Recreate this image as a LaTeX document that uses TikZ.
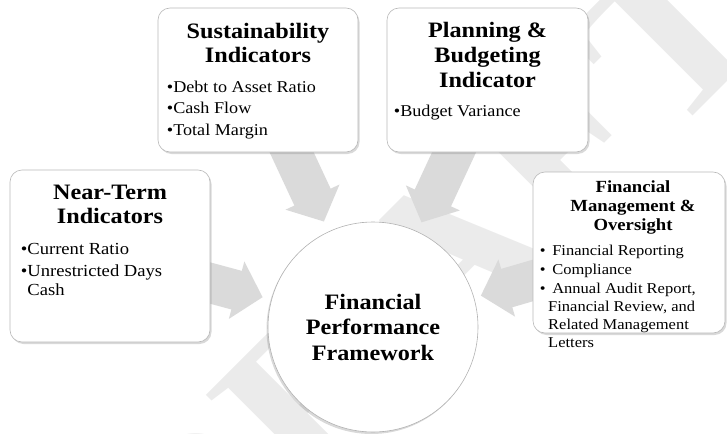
\documentclass[tikz,border=0pt]{standalone}
\usepackage{fontspec}
\setmainfont{Liberation Serif}[FakeStretch=1.1]
\usetikzlibrary{arrows.meta, positioning, shadows, backgrounds}
\newcommand{\bul}{\textbullet}
\definecolor{arrowgray}{RGB}{218,218,218}
\definecolor{markgray}{RGB}{235,235,235}

\tikzset{
  card/.style={draw=gray!55, line width=0.6pt, fill=white, rounded corners=12pt,
    drop shadow={shadow xshift=1.5pt, shadow yshift=-2pt, opacity=0.3}},
  title/.style={font=\bfseries\fontsize{22}{24}\selectfont, align=center, inner sep=0pt},
  items/.style={align=left, inner sep=0pt, anchor=north west},
  flow/.style={line width=40pt, draw=arrowgray, -{Triangle[length=27pt, width=58pt]}, shorten <=-30pt}
}

\begin{document}
\begin{tikzpicture}[x=1pt, y=-1pt]
    \useasboundingbox (0,0) rectangle (727,433);

    % Boxes
    \node[card, minimum width=200pt, minimum height=172pt] (near) at (110,256) {};
    \node[card, minimum width=200pt, minimum height=144pt] (sust) at (258,80) {};
    \node[card, minimum width=201pt, minimum height=144pt] (plan) at (487.5,80) {};
    \node[card, minimum width=192pt, minimum height=161pt] (fmo) at (629,252.5) {};

    % Centre circle
    \node[circle, draw=gray!60, line width=0.6pt, fill=white, minimum size=210pt,
      font=\bfseries\fontsize{22}{25.5}\selectfont, align=center,
      drop shadow={shadow xshift=-1.5pt, shadow yshift=-2pt, opacity=0.3}]
      (circ) at (373,327) {Financial\\Performance\\Framework};

    % Titles
    \node[title, below=15pt of near.north] (nearT) {Near-Term\\Indicators};
    \node[title, below=15pt of sust.north] (sustT) {Sustainability\\Indicators};
    \node[title, below=14pt of plan.north, font=\bfseries\fontsize{22}{25}\selectfont] (planT) {Planning \&\\Budgeting\\Indicator};
    \node[title, below=9pt of fmo.north, xshift=4pt, font=\bfseries\fontsize{17}{18.7}\selectfont] (fmoT) {Financial\\Management \&\\Oversight};

    % Bullet lists
    \node[items, font=\fontsize{16.9}{18.5}\selectfont] (nearL) at ([xshift=11pt, yshift=-73.5pt]near.north west)
      {\bul Current Ratio\\[3.5pt]\bul Unrestricted Days\\\phantom{\bul}Cash};
    \node[items, font=\fontsize{16.5}{19}\selectfont] (sustL) at ([xshift=9pt, yshift=-72.8pt]sust.north west)
      {\bul Debt to Asset Ratio\\[2.5pt]\bul Cash Flow\\[2.5pt]\bul Total Margin};
    \node[items, font=\fontsize{16.5}{19}\selectfont] (planL) at ([xshift=7pt, yshift=-97.5pt]plan.north west)
      {\bul Budget Variance};
    \node[items, font=\fontsize{15}{18}\selectfont] (fmoL) at ([xshift=7pt, yshift=-72.8pt]fmo.north west)
      {\bul\, Financial Reporting\\[1pt]\bul\, Compliance\\[1pt]\bul\, Annual Audit Report,\\
       \phantom{\bul\,}Financial Review, and\\\phantom{\bul\,}Related Management\\\phantom{\bul\,}Letters};

    \begin{scope}[on background layer]
        % Watermark
        \node[rotate=45, text=markgray, font=\bfseries\fontsize{225}{225}\selectfont, inner sep=0pt]
          (draft) at (430,275) {DRAFT};

        % Arrows into the framework
        \draw[flow, shorten >=9pt] (near) -- (circ);
        \draw[flow, shorten >=11pt] (sust) -- (circ);
        \draw[flow, shorten >=10pt] (plan) -- (circ);
        \draw[flow, shorten >=7pt] (fmo) -- (circ);
    \end{scope}
\end{tikzpicture}
\end{document}
